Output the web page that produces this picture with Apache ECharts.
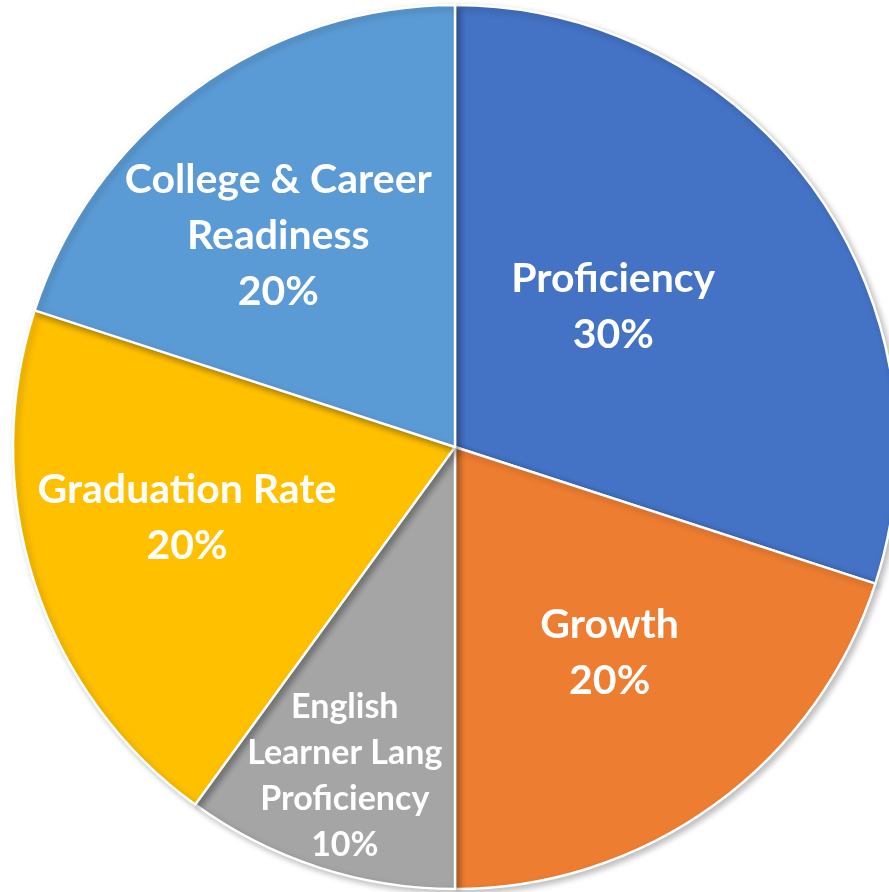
<!DOCTYPE html>
<html>
<head>
<meta charset="utf-8">
<script src="https://cdn.jsdelivr.net/npm/echarts@6/dist/echarts.min.js"></script>
<style>
  html, body { margin: 0; padding: 0; background: #fff; }
  #chart { width: 889px; height: 892px; }
</style>
</head>
<body>
<div id="chart"></div>
<script>
// categories and shares, clockwise from 12 o'clock
const categories = ['Proficiency', 'Growth', 'English\nLearner Lang\nProficiency', 'Graduation Rate', 'College & Career\nReadiness'];
const shares = [30, 20, 10, 20, 20];
const colors = ['#4472C4', '#ED7D31', '#A5A5A5', '#FFC000', '#5B9BD5'];

// label nudges from the default inside position (styling only)
const labelOffsets = [[-23, -9], [23, 25], [-41, 116], [-55, 2], [-45, -30]];

const myChart = echarts.init(document.getElementById('chart'));

const seriesData = categories.map((name, i) => ({
  name: name,
  value: shares[i],
  itemStyle: { color: colors[i] },
  label: {
    offset: labelOffsets[i],
    fontSize: i === 2 ? 34 : 41,
    lineHeight: i === 2 ? 46 : 56,
  },
}));

myChart.setOption({
  animation: false,
  series: [
    {
      type: 'pie',
      center: [455, 447],
      radius: [0, 442],
      startAngle: 90,
      clockwise: true,
      avoidLabelOverlap: false,
      data: seriesData,
      itemStyle: {
        borderColor: '#fff',
        borderWidth: 2.5,
        shadowBlur: 6,
        shadowOffsetX: 3,
        shadowOffsetY: 3,
        shadowColor: 'rgba(0,0,0,0.25)',
      },
      label: {
        show: true,
        position: 'inside',
        color: '#fff',
        fontFamily: 'Lato',
        fontWeight: 'bold',
        formatter: (p) => p.name + '\n' + p.value + '%',
      },
      labelLine: { show: false },
      emphasis: { disabled: true },
    },
  ],
});
</script>
</body>
</html>
